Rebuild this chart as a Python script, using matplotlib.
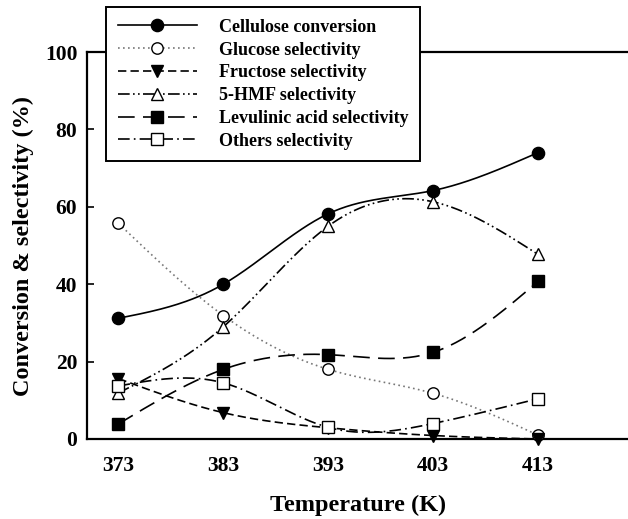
import numpy as np
import matplotlib
matplotlib.use("Agg")
import matplotlib.pyplot as plt

temperature = [373, 383, 393, 403, 413]
cellulose_conversion = [31.2, 40.0, 58.2, 64.2, 74.0]
glucose_selectivity = [55.7, 31.9, 18.0, 11.8, 1.0]
fructose_selectivity = [15.6, 6.8, 2.9, 0.9, 0.0]
hmf_selectivity = [11.9, 29.0, 55.0, 61.3, 47.7]
levulinic_selectivity = [3.9, 18.0, 21.8, 22.4, 40.7]
others_selectivity = [13.7, 14.5, 3.0, 4.0, 10.4]

labels = ["Cellulose conversion", "Glucose selectivity", "Fructose selectivity",
          "5-HMF selectivity", "Levulinic acid selectivity", "Others selectivity"]


def natural_spline(x, y, n=200):
    x = np.asarray(x, float)
    y = np.asarray(y, float)
    m = len(x)
    h = np.diff(x)
    A = np.zeros((m, m))
    b = np.zeros(m)
    A[0, 0] = 1
    A[-1, -1] = 1
    for i in range(1, m - 1):
        A[i, i - 1] = h[i - 1]
        A[i, i] = 2 * (h[i - 1] + h[i])
        A[i, i + 1] = h[i]
        b[i] = 6 * ((y[i + 1] - y[i]) / h[i] - (y[i] - y[i - 1]) / h[i - 1])
    M = np.linalg.solve(A, b)
    xs = np.linspace(x[0], x[-1], n)
    ys = np.empty_like(xs)
    for k, xv in enumerate(xs):
        i = min(np.searchsorted(x, xv, side="right") - 1, m - 2)
        t1 = x[i + 1] - xv
        t0 = xv - x[i]
        ys[k] = (M[i] * t1 ** 3 / (6 * h[i]) + M[i + 1] * t0 ** 3 / (6 * h[i])
                 + (y[i] / h[i] - M[i] * h[i] / 6) * t1
                 + (y[i + 1] / h[i] - M[i + 1] * h[i] / 6) * t0)
    return xs, ys


plt.rcParams["font.family"] = ["Liberation Serif", "DejaVu Serif"]
plt.rcParams["font.weight"] = "bold"

fig = plt.figure(figsize=(6.28, 5.19), dpi=100)
ax = fig.add_axes([87 / 628, 80 / 519, 1 - 87 / 628 + 0.002, (439 - 52) / 519])

series = [cellulose_conversion, glucose_selectivity, fructose_selectivity,
          hmf_selectivity, levulinic_selectivity, others_selectivity]
styles = [
    dict(ls="-", marker="o", mfc="black", color="black"),
    dict(ls=(0, (1, 2)), marker="o", mfc="white", color="#777777"),
    dict(ls=(0, (5, 2.5)), marker="v", mfc="black", color="black"),
    dict(ls=(0, (7, 2, 1, 2, 1, 2)), marker="^", mfc="white", color="black"),
    dict(ls=(0, (10, 5)), marker="s", mfc="black", color="black"),
    dict(ls=(0, (7, 2.5, 1, 2.5)), marker="s", mfc="white", color="black"),
]
msizes = [8.8, 8.2, 8.8, 8.6, 8.0, 8.0]

handles = []
for vals, st, lab, ms in zip(series, styles, labels, msizes):
    xs, ys = natural_spline(temperature, vals)
    ax.plot(xs, ys, ls=st["ls"], color=st["color"], lw=1.2, zorder=2)
    ax.plot(temperature, vals, ls="none", marker=st["marker"], mfc=st["mfc"],
            mec="black", mew=1.0, ms=ms, zorder=3, clip_on=False)
    h, = ax.plot([], [], ls=st["ls"], color=st["color"], lw=1.2,
                 marker=st["marker"], mfc=st["mfc"], mec="black", mew=1.0, ms=ms)
    handles.append(h)

ax.set_xlim(370, 421.7)
ax.set_ylim(0, 100)
ax.set_xticks(temperature)
ax.set_yticks([0, 20, 40, 60, 80, 100])
ax.tick_params(axis="x", length=0, pad=12, labelsize=15.5)
ax.tick_params(axis="y", direction="in", length=5, width=1.2, pad=7, labelsize=15.5)
for lab in ax.get_xticklabels() + ax.get_yticklabels():
    lab.set_fontweight("bold")
ax.spines["right"].set_visible(False)
for s in ["left", "bottom", "top"]:
    ax.spines[s].set_linewidth(1.6)

ax.set_xlabel("Temperature (K)", fontsize=17.5, fontweight="bold", labelpad=14)
ax.set_ylabel("Conversion & selectivity (%)", fontsize=17.5, fontweight="bold", labelpad=8)

leg = fig.legend(handles, labels, loc="upper left",
                 bbox_to_anchor=(106 / 628, 1 - 7 / 519), borderaxespad=0,
                 prop=dict(size=13, weight="bold"), handlelength=4.4,
                 handletextpad=1.2, labelspacing=0.32, borderpad=0.65,
                 fancybox=False, framealpha=1, edgecolor="black")
leg.get_frame().set_linewidth(1.4)

fig.savefig("out.png", dpi=100)
